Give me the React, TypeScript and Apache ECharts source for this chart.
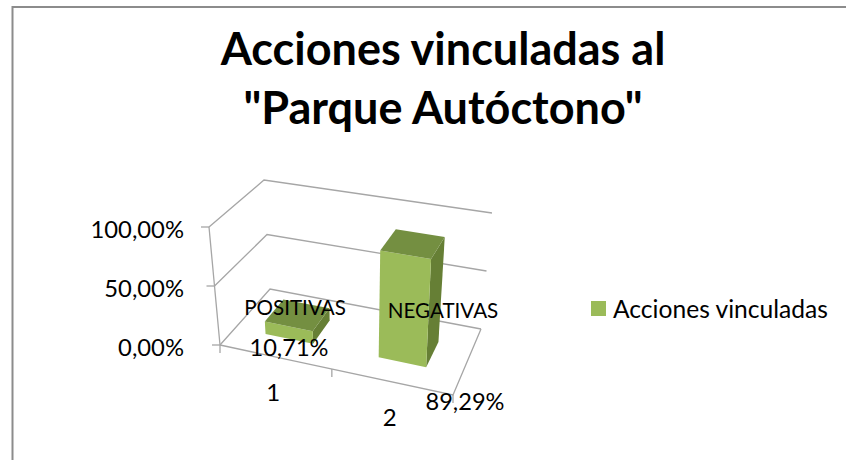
import React, { useEffect, useRef } from "react";
import * as echarts from "echarts";

const TITLE = 'Acciones vinculadas al\n"Parque Autóctono"';
const SERIES_NAME = "Acciones vinculadas";
const categories = ["1", "2"];
const values = [10.71, 89.29];
const valueLabels = ["10,71%", "89,29%"];
const categoryNames = ["POSITIVAS", "NEGATIVAS"];
const gridLevels = [0, 50, 100];

const FONT = "Lato";
const GRID = { left: 200, top: 229, width: 300, height: 118 };

// Corners of the perspective box, as [x, y] in the picture
const BOX = {
  floorFL: [220, 345], floorFR: [453, 395], floorBL: [270, 289], floorBR: [481, 329],
  topFL: [209, 227], topFR: [460, 270], topBL: [264, 180], topBR: [492, 213],
};
const BAR = { half: 0.105, shift: -0.012, w0: 0.31, w1: 0.7 };
const TICK_U = [0, 0.48, 1];
const LABEL_XY = {
  names: [[295, 307], [443, 310]],
  values: [[289, 347], [465, 401]],
};

function lerp(a: number[], b: number[], t: number) {
  return [a[0] + (b[0] - a[0]) * t, a[1] + (b[1] - a[1]) * t];
}
function project(u: number, v: number, w: number) {
  const front = lerp(lerp(BOX.floorFL, BOX.floorFR, u), lerp(BOX.topFL, BOX.topFR, u), v);
  const back = lerp(lerp(BOX.floorBL, BOX.floorBR, u), lerp(BOX.topBL, BOX.topBR, u), v);
  return lerp(front, back, w);
}
function normalise(pt: number[]) {
  return [(pt[0] - GRID.left) / GRID.width, (GRID.top + GRID.height - pt[1]) / GRID.height];
}

const LINE = { stroke: "#A6A6A6", lineWidth: 1.3, fill: "none" };
const line = (pts: number[][]) => ({ type: "polyline", shape: { points: pts }, style: LINE, silent: true });

function renderWalls(_p: any, api: any) {
  const v = normalise(api.coord([0, api.value(1)]))[1];
  const a = project(0, v, 0), b = project(0, v, 1), c = project(1, v, 1);
  const children: any[] = [line([a, b, c]), line([a, [a[0] - 8, a[1]]])];
  if (v === 0) {
    const top = project(0, 1, 0);
    const fr = project(1, 0, 0);
    const br = project(1, 0, 1);
    children.push(line([a, top]), line([a, fr, br]));
    TICK_U.forEach((u) => {
      const p = project(u, 0, 0);
      children.push(line([p, [p[0], p[1] + 8]]));
    });
    categories.forEach((cat, i) => {
      const cu = normalise(api.coord([i, 0]))[0];
      const p = project(cu, 0, 0);
      children.push({
        type: "text",
        x: p[0] - 5,
        y: p[1] + 33.5,
        style: { text: cat, font: `24px ${FONT}`, fill: "#000", textAlign: "center", textVerticalAlign: "middle" },
      });
    });
  }
  return { type: "group", children };
}

function renderBar(_p: any, api: any) {
  const pt = normalise(api.coord([api.value(0), api.value(1)]));
  const u0 = pt[0] + BAR.shift - BAR.half;
  const u1 = pt[0] + BAR.shift + BAR.half;
  const v = pt[1];
  const { w0, w1 } = BAR;
  const poly = (pts: number[][], fill: any) => ({
    type: "polygon",
    shape: { points: pts },
    style: { fill, stroke: "none" },
  });
  return {
    type: "group",
    children: [
      poly([project(u1, 0, w0), project(u1, 0, w1), project(u1, v, w1), project(u1, v, w0)], "#667F35"),
      poly([project(u0, 0, w0), project(u1, 0, w0), project(u1, v, w0), project(u0, v, w0)], "#9BBB59"),
      poly([project(u0, v, w0), project(u1, v, w0), project(u1, v, w1), project(u0, v, w1)], "#748F41"),
    ],
  };
}

const labelText = (text: string, xy: number[], size: number) => ({
  type: "text",
  x: xy[0],
  y: xy[1],
  silent: true,
  z: 20,
  style: { text, font: `${size}px ${FONT}`, fill: "#000", textAlign: "center", textVerticalAlign: "middle" },
});

export default function App() {
  const ref = useRef<HTMLDivElement>(null);
  useEffect(() => {
    const chart = echarts.init(ref.current!, undefined, { renderer: "svg" });
    chart.setOption({
      animation: false,
      backgroundColor: "#fff",
      title: {
        text: TITLE,
        left: 438,
        top: 13,
        textAlign: "center",
        textStyle: { fontFamily: FONT, fontWeight: "bold", fontSize: 45, lineHeight: 59, color: "#000" },
      },
      legend: {
        data: [SERIES_NAME],
        left: 586,
        top: 291,
        icon: "rect",
        itemWidth: 15,
        itemHeight: 15,
        selectedMode: false,
        textStyle: { fontFamily: FONT, fontSize: 24.6, color: "#000", padding: [0, 0, 0, 2] },
      },
      grid: { ...GRID },
      xAxis: { type: "category", data: categories, show: false },
      yAxis: {
        type: "value",
        min: 0,
        max: 100,
        interval: 50,
        axisLine: { show: false },
        axisTick: { show: false },
        splitLine: { show: false },
        axisLabel: {
          margin: 16,
          fontFamily: FONT,
          fontSize: 23.8,
          color: "#000",
          formatter: (val: number) => val.toFixed(2).replace(".", ",") + "%",
        },
      },
      graphic: [
        {
          type: "rect",
          silent: true,
          z: -1,
          shape: { x: 12.5, y: 7, width: 860, height: 480 },
          style: { fill: "none", stroke: "#8C8C8C", lineWidth: 2 },
        },
        ...categoryNames.map((t, i) => labelText(t, LABEL_XY.names[i], 20.6)),
        ...valueLabels.map((t, i) => labelText(t, LABEL_XY.values[i], 23.6)),
      ],
      series: [
        {
          type: "custom",
          name: "walls",
          silent: true,
          renderItem: renderWalls,
          data: gridLevels.map((g) => [0, g]),
          z: 1,
        },
        {
          type: "custom",
          name: SERIES_NAME,
          silent: true,
          itemStyle: { color: "#9BBB59" },
          renderItem: renderBar,
          data: values.map((v, i) => [i, v]),
          z: 2,
        },
      ],
    });
    return () => chart.dispose();
  }, []);
  return <div ref={ref} style={{ position: "absolute", left: 0, top: 0, width: 846, height: 460 }} />;
}
